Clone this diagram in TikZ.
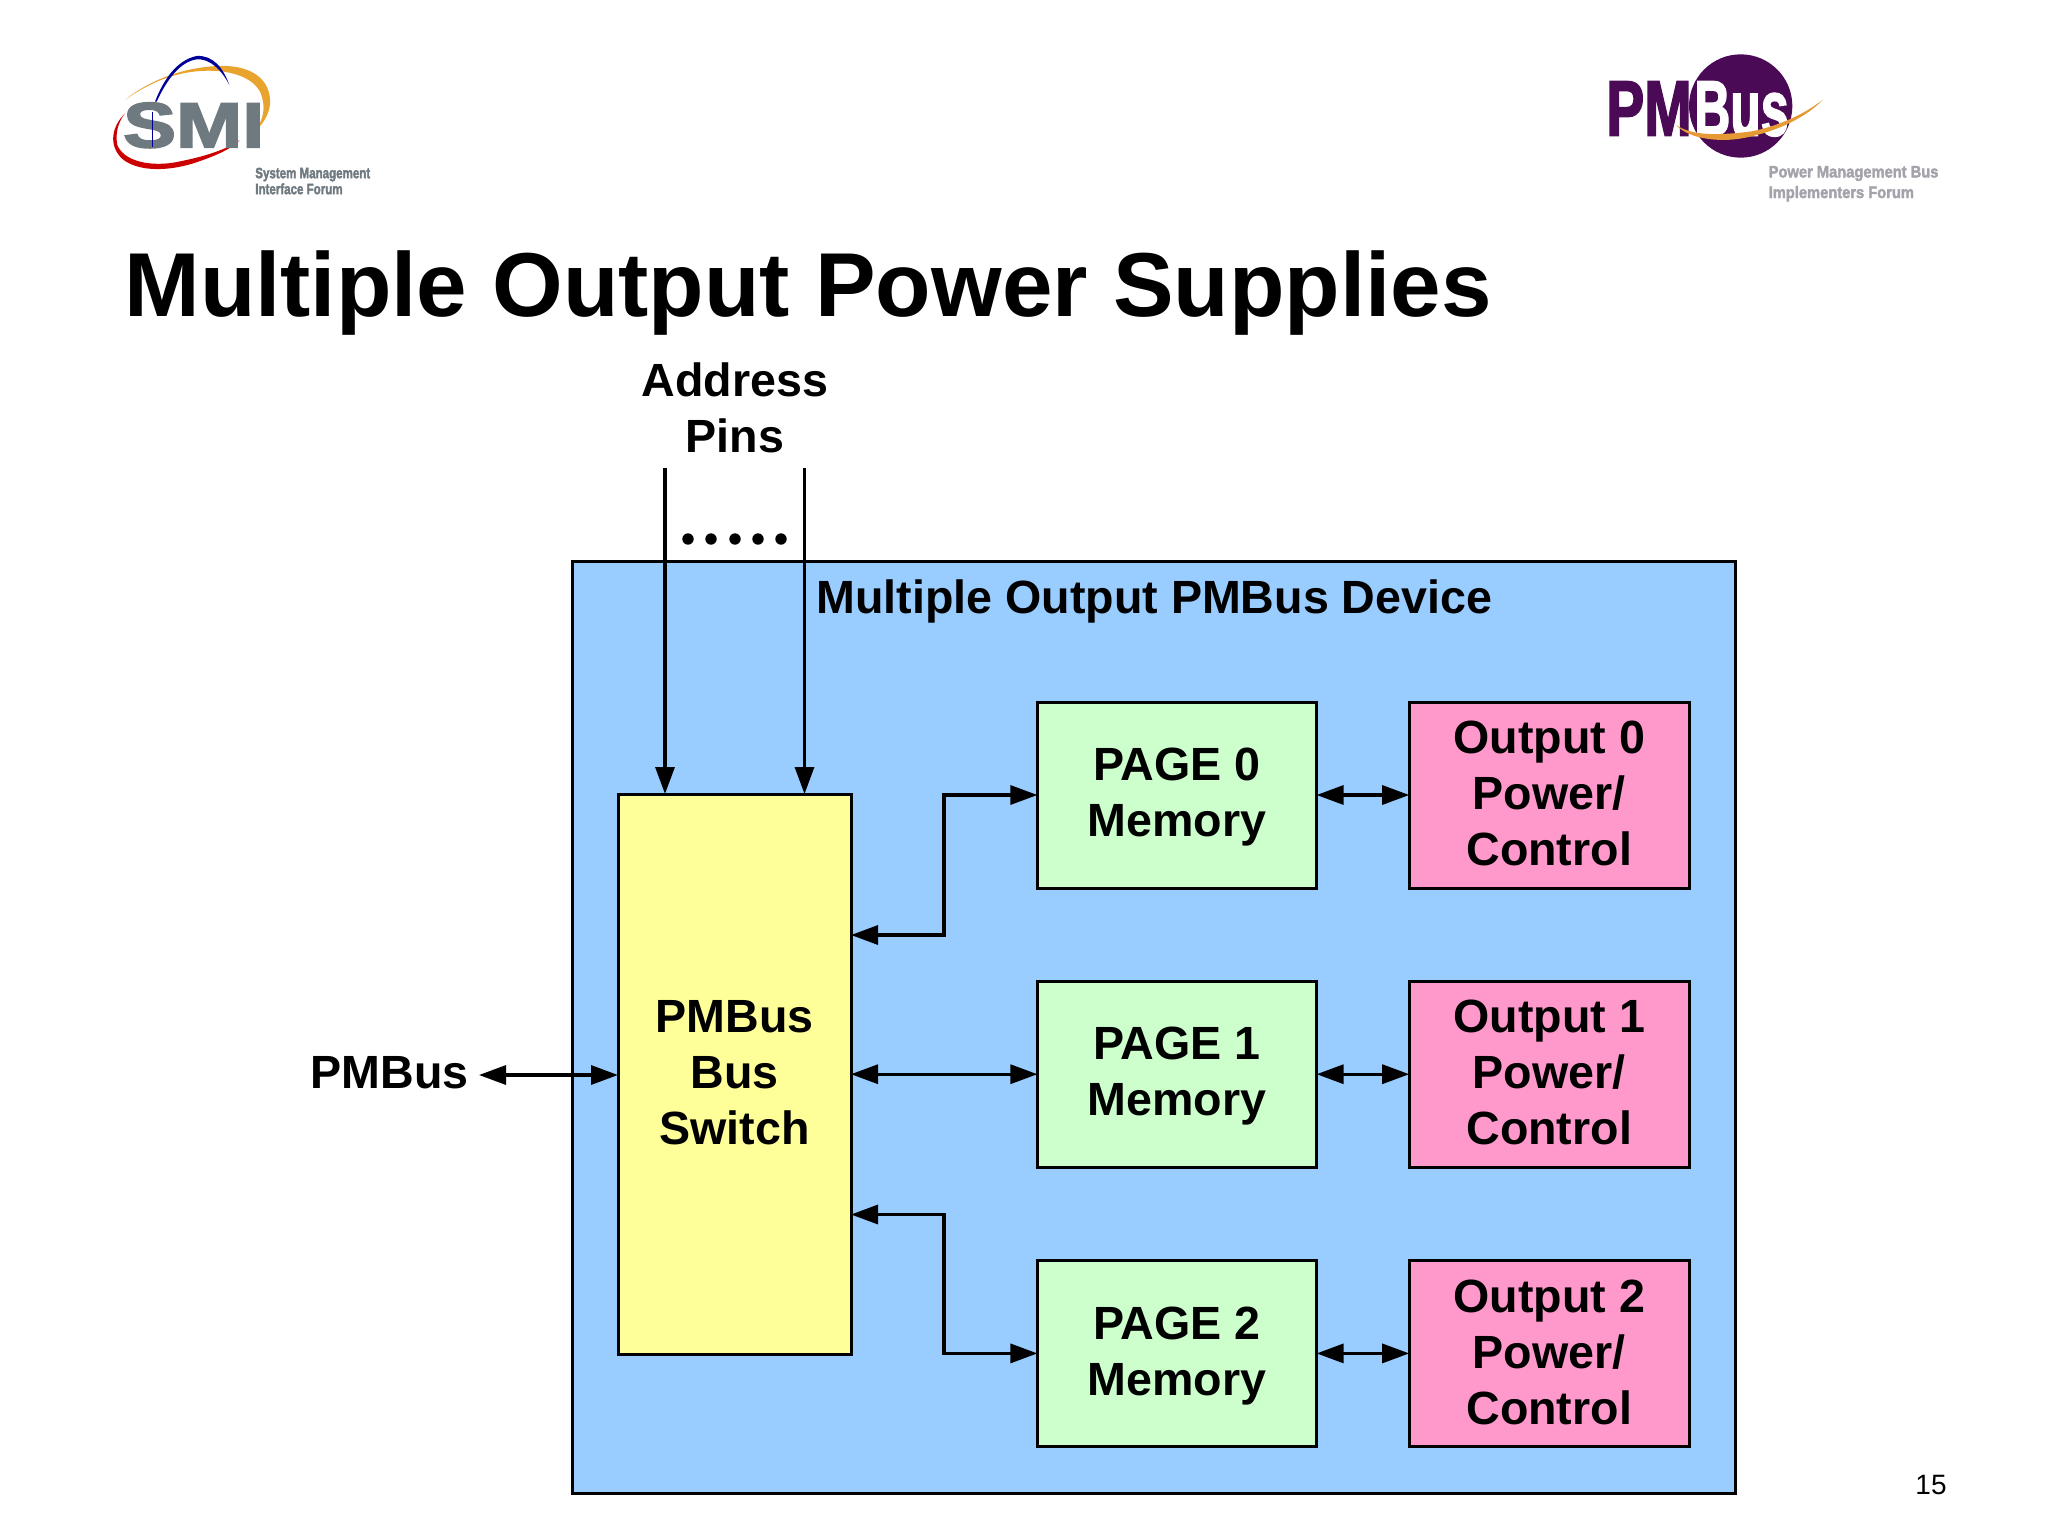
\documentclass[tikz,border=0pt]{standalone}
\usepackage{fontspec}
\setmainfont{Liberation Sans}
\newfontfamily\logofont{Liberation Sans Bold}[FakeBold=2.5]
\usetikzlibrary{arrows.meta}
\usetikzlibrary{positioning}
\definecolor{devblue}{HTML}{99CCFF}
\definecolor{swyellow}{HTML}{FFFF99}
\definecolor{pagegreen}{HTML}{CCFFCC}
\definecolor{outpink}{HTML}{FF99CC}
\definecolor{smigray}{HTML}{6F7980}
\definecolor{forumgray}{HTML}{A3A3AB}
\definecolor{pmpurple}{HTML}{4A0A55}
\definecolor{swoosh}{HTML}{E59A33}
\tikzstyle{block} = [rectangle, draw=black, line width=1.5pt, outer sep=0pt, inner sep=0pt, align=center, font=\bfseries\fontsize{23.3}{28}\selectfont]
\tikzstyle{page} = [block, minimum width=139.6pt, minimum height=93pt, text depth=2.5pt, fill=pagegreen]
\tikzstyle{output} = [block, minimum width=140pt, minimum height=93pt, text depth=1.5pt, fill=outpink]
\tikzstyle{caption} = [inner sep=0pt, align=center, font=\bfseries\fontsize{23.3}{28}\selectfont]
\tikzstyle{arrow} = [line width=1.6pt,-{Triangle[length=13.5pt,width=9.5pt]}]
\tikzstyle{biarrow} = [line width=1.6pt,{Triangle[length=13.5pt,width=9.5pt]}-{Triangle[length=13.5pt,width=9.5pt]}]
\begin{document}
\begin{tikzpicture}[x=.5pt,y=-.5pt]
\useasboundingbox (0,0) rectangle (2048,1536);

\begin{scope}[shift={(80,30)},x=.16667pt,y=-.16667pt]
\fill[swoosh!90!yellow] (135,210) .. controls (220,140) and (340,105) .. (440,108) .. controls (530,112) and (575,160) .. (570,225) .. controls (565,260) and (545,285) .. (525,305) .. controls (550,270) and (560,230) .. (540,185) .. controls (510,130) and (420,115) .. (340,125) .. controls (260,135) and (190,170) .. (135,210);
\fill[red!80!black] (135,250) .. controls (95,290) and (85,345) .. (125,385) .. controls (170,425) and (260,425) .. (340,400) .. controls (400,380) and (450,360) .. (480,330) .. controls (430,365) and (350,385) .. (280,398) .. controls (200,410) and (130,390) .. (112,345) .. controls (105,310) and (115,275) .. (135,250);
\fill[blue!60!black] (225,215) .. controls (250,150) and (290,90) .. (350,78) .. controls (400,75) and (430,115) .. (448,165) .. controls (425,120) and (390,85) .. (350,88) .. controls (300,95) and (260,150) .. (230,215);
\node (smi) [anchor=base west, inner sep=0pt, text=smigray, font=\logofont\fontsize{32}{32}\selectfont, xscale=1.24, transform shape] at (128,352) {SMI};
\draw[blue!60!black, line width=.3pt] (216,245) -- (216,350);
\node (smiforum) [anchor=north west, inner sep=0pt, text=smigray, align=left, font=\logofont\fontsize{7.5}{8}\selectfont, xscale=.77, transform shape] at (525,412) {System Management\\Interface Forum};
\end{scope}

\begin{scope}[shift={(1590,30)},x=.16667pt,y=-.16667pt]
\fill[pmpurple] (452,228) circle (155);
\node (pm) [anchor=base west, inner sep=0pt, text=pmpurple, font=\logofont\fontsize{39}{39}\selectfont, xscale=.73, transform shape] at (48,316) {PM};
\node (bus) [anchor=base west, inner sep=0pt, text=white, font=\logofont\fontsize{39}{39}\selectfont, xscale=.64, transform shape] at (312,316) {Bus};
\fill[swoosh] (258,285) .. controls (300,330) and (400,340) .. (480,320) .. controls (570,300) and (650,260) .. (700,208) .. controls (640,255) and (560,290) .. (480,305) .. controls (390,315) and (310,320) .. (258,285);
\node (pmforum) [anchor=north west, inner sep=0pt, text=forumgray, align=left, font=\logofont\fontsize{8.25}{10.3}\selectfont, xscale=.89, transform shape] at (535,407) {Power Management Bus\\Implementers Forum};
\end{scope}

\node (title) [anchor=base west, inner sep=0pt, font=\bfseries\fontsize{45.4}{50}\selectfont] at (124,316) {Multiple Output Power Supplies};
\node (pins) [caption] at (735,408) {Address\\Pins};

\node (device) [block, minimum width=581.5pt, minimum height=466pt, fill=devblue] at (1154,1027.5) {};
\node (devlabel) [anchor=base west, inner sep=0pt, font=\bfseries\fontsize{23.3}{28}\selectfont] at (816,613) {Multiple Output PMBus Device};

\node (switch) [block, minimum width=116.5pt, minimum height=280pt, text depth=1.5pt, fill=swyellow] at (734.5,1074) {PMBus\\Bus\\Switch};
\node (page0) [page] at (1177,795) {PAGE 0\\Memory};
\node (page1) [page, below=46.6pt of page0] {PAGE 1\\Memory};
\node (page2) [page, below=46.6pt of page1] {PAGE 2\\Memory};
\node (out0) [output, right=46.3pt of page0] {Output 0\\Power/\\Control};
\node (out1) [output, right=46.3pt of page1] {Output 1\\Power/\\Control};
\node (out2) [output, right=46.3pt of page2] {Output 2\\Power/\\Control};
\node (pmbus) [anchor=base east, inner sep=0pt, font=\bfseries\fontsize{23.3}{28}\selectfont] at (469,1088) {PMBus};
\node (pagenum) [anchor=base east, inner sep=0pt, font=\fontsize{14}{16}\selectfont] at (1947,1494.5) {15};

\coordinate (addr0) at (665,468);
\coordinate (addr1) at (804.5,468);
\coordinate (busend) at (479,1075);
\coordinate (elbow0) at (944,935);
\coordinate (elbow2) at (944,1214.5);

\draw [arrow] (addr0) -- (addr0 |- switch.north);
\draw [arrow] (addr1) -- (addr1 |- switch.north);
\foreach \x in {688,711,735,758,781}
  \fill (\x,539) circle (5.7);

\draw [biarrow] (busend) -- (busend -| switch.west);
\draw [biarrow] (page0.west) -| (elbow0) -- (elbow0 -| switch.east);
\draw [biarrow] (page1.west) -- (page1.west -| switch.east);
\draw [biarrow] (page2.west) -| (elbow2) -- (elbow2 -| switch.east);
\draw [biarrow] (page0) -- (out0);
\draw [biarrow] (page1) -- (out1);
\draw [biarrow] (page2) -- (out2);

\end{tikzpicture}
\end{document}
